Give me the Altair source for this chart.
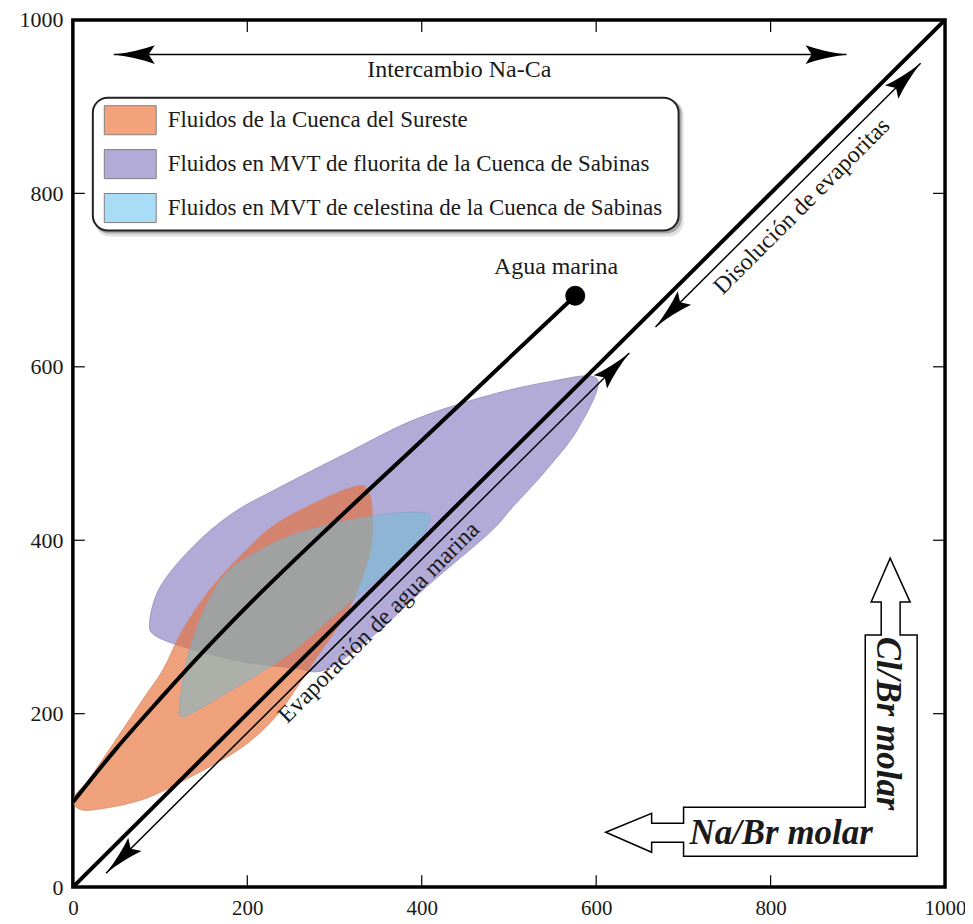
import altair as alt
import pandas as pd

# ---------------- data ----------------
AXIS_VALUES = [0, 200, 400, 600, 800, 1000]
TICK_VALUES = [200, 400, 600, 800]

GROUPS = ["Fluidos de la Cuenca del Sureste",
          "Fluidos en MVT de fluorita de la Cuenca de Sabinas",
          "Fluidos en MVT de celestina de la Cuenca de Sabinas"]
SWATCH_COLORS = ["#F4A27C", "#B2ABD8", "#A8DDF5"]

# fluorita (Sabinas) field
purple_x = [601, 542, 466, 389, 313, 237, 183, 137, 100, 88, 96, 137, 195, 252, 290, 348, 405, 477, 504, 542, 580]
purple_y = [586, 582, 564, 538, 500, 461, 431, 392, 346, 305, 289, 274, 260, 253, 251, 293, 346, 408, 438, 480, 530]

# Cuenca del Sureste field
orange_x = [328, 290, 233, 195, 157, 126, 104, 80, 42, 16, 2, 4, 23, 80, 137, 195, 233, 260, 283, 309, 328, 342, 343, 338]
orange_y = [463, 449, 419, 385, 343, 297, 252, 216, 159, 121, 105, 92, 89, 101, 128, 162, 197, 235, 270, 308, 346, 392, 438, 457]

# celestina (Sabinas) field
blue_x = [410, 400, 366, 328, 290, 252, 214, 176, 149, 130, 122, 126, 137, 176, 214, 252, 290, 336, 366, 397]
blue_y = [426, 432, 431, 425, 417, 406, 388, 362, 316, 258, 205, 197, 201, 224, 247, 272, 305, 344, 369, 400]

# seawater evaporation trend
seawater_x = [0, 50, 100, 150, 204, 300, 400, 500, 576]
seawater_y = [98, 160, 217, 272, 328, 421, 515, 610, 682]

diag_x = [0, 1000]
diag_y = [0, 1000]

agua_x = [576]
agua_y = [682]

# thin double arrows (shaft endpoints)
arrow_id = ["na_ca", "na_ca", "evap", "evap", "disol", "disol"]
arrow_x = [47, 887, 38, 638, 668, 972]
arrow_y = [960, 960, 16, 616, 646, 950]
arrow_angle = [270, 90, 225, 45, 225, 45]

# text annotations
label_text = ["Intercambio Na-Ca", "Agua marina", "Evaporación de agua marina", "Disolución de evaporitas"]
label_x = [443, 554, 351, 836]
label_y = [942, 715, 305, 785]
label_angle = [0, 0, 315, 315]

axis_text = ["Na/Br molar", "Cl/Br molar"]
axis_text_x = [812, 935]
axis_text_y = [62.6, 188.5]
axis_text_angle = [0, 90]

# L-shaped axis arrow outline
larrow_x = [611, 663.6, 663.6, 700.2, 700.2, 908.5, 908.5, 926.8, 926.8, 915.3, 937.1, 960, 948.5, 948.5, 968, 968, 700.2, 700.2, 663.6, 663.6]
larrow_y = [63.2, 85.1, 73.6, 73.6, 92, 92, 290.8, 290.8, 328.7, 328.7, 379.3, 328.7, 328.7, 290.8, 290.8, 35.6, 35.6, 51.7, 51.7, 40.2]

# ---------------- helpers ----------------
FONT = "Liberation Serif"
TXT = "#1a1a1a"
W, H = 874, 869

xscale = alt.Scale(domain=[0, 1000], nice=False, zero=False)
yscale = alt.Scale(domain=[0, 1000], nice=False, zero=False)
X = alt.X("x:Q", scale=xscale, title=None,
          axis=alt.Axis(values=AXIS_VALUES, labelPadding=10, format="d", labelFontSize=21))
Y = alt.Y("y:Q", scale=yscale, title=None,
          axis=alt.Axis(values=AXIS_VALUES, labelPadding=10, format="d"))


def poly_df(xs, ys):
    return pd.DataFrame({"x": xs, "y": ys, "i": list(range(len(xs)))})


def polygon(xs, ys, fill, op, stroke):
    return alt.Chart(poly_df(xs, ys)).mark_line(
        interpolate="cardinal-closed", fill=fill, fillOpacity=op,
        stroke=stroke, strokeWidth=1, strokeOpacity=0.7
    ).encode(x=X, y=Y, order="i:Q")


purple = polygon(purple_x, purple_y, "#9188C6", 0.7, "#8A84B8")
orange = polygon(orange_x, orange_y, "#E66E36", 0.65, "#D4866A")
blue = polygon(blue_x, blue_y, "#6CC0D6", 0.5, "#7FA6C8")

diag = alt.Chart(pd.DataFrame({"x": diag_x, "y": diag_y})).mark_line(
    color="black", strokeWidth=4).encode(x=X, y=Y)

sea = alt.Chart(pd.DataFrame({"x": seawater_x, "y": seawater_y})).mark_line(
    color="black", strokeWidth=4, interpolate="monotone").encode(x=X, y=Y)

dot = alt.Chart(pd.DataFrame({"x": agua_x, "y": agua_y})).mark_circle(
    color="black", size=400, opacity=1).encode(x=X, y=Y)

arrows_df = pd.DataFrame({"id": arrow_id, "x": arrow_x, "y": arrow_y, "angle": arrow_angle})
shafts = alt.Chart(arrows_df).mark_line(color="black", strokeWidth=1.5).encode(
    x=X, y=Y, detail="id:N")

HEAD = "M0,0 Q0.14,1.1 0.46,2 L0,1.7 L-0.46,2 Q-0.14,1.1 0,0 Z"
heads = alt.Chart(arrows_df).mark_point(
    shape=HEAD, filled=True, size=1681, color="black", opacity=1, strokeWidth=0
).encode(x=X, y=Y, angle=alt.Angle("angle:Q", scale=None))

labels = alt.Chart(pd.DataFrame({"t": label_text, "x": label_x, "y": label_y, "a": label_angle})).mark_text(
    font=FONT, fontSize=24, color=TXT, align="center", baseline="middle"
).encode(x=X, y=Y, text="t:N", angle=alt.Angle("a:Q", scale=None))

larrow = alt.Chart(poly_df(larrow_x, larrow_y)).mark_line(
    interpolate="linear-closed", fill="white", stroke="black", strokeWidth=1.5
).encode(x=X, y=Y, order="i:Q")

axis_labels = alt.Chart(pd.DataFrame({"t": axis_text, "x": axis_text_x, "y": axis_text_y, "a": axis_text_angle})).mark_text(
    font=FONT, fontSize=35, fontStyle="italic", fontWeight="bold", color=TXT,
    align="center", baseline="middle"
).encode(x=X, y=Y, text="t:N", angle=alt.Angle("a:Q", scale=None))

# inward ticks on all four sides
tdf = pd.DataFrame({"x": TICK_VALUES, "y": TICK_VALUES})
tick_b = alt.Chart(tdf).mark_rule(color="black", strokeWidth=1.2).encode(
    x=X, y=alt.value(H), y2=alt.value(H - 12))
tick_t = alt.Chart(tdf).mark_rule(color="black", strokeWidth=1.2).encode(
    x=X, y=alt.value(0), y2=alt.value(12))
tick_l = alt.Chart(tdf).mark_rule(color="black", strokeWidth=1.2).encode(
    y=Y, x=alt.value(0), x2=alt.value(12))
tick_r = alt.Chart(tdf).mark_rule(color="black", strokeWidth=1.2).encode(
    y=Y, x=alt.value(W), x2=alt.value(W - 12))

# legend frame (rounded box with soft shadow)
one = pd.DataFrame({"k": [0]})
shadow1 = alt.Chart(one).mark_rect(fill="#000000", opacity=0.12, cornerRadius=15).encode(
    x=alt.value(22), x2=alt.value(612), y=alt.value(80), y2=alt.value(217))
shadow2 = alt.Chart(one).mark_rect(fill="#000000", opacity=0.25, cornerRadius=15).encode(
    x=alt.value(21), x2=alt.value(610), y=alt.value(79), y2=alt.value(214))
box = alt.Chart(one).mark_rect(fill="white", stroke="#222222", strokeWidth=2, cornerRadius=15).encode(
    x=alt.value(20), x2=alt.value(607), y=alt.value(78), y2=alt.value(211))

RECT = "M-1,-0.56H1V0.56H-1Z"
legend_layer = alt.Chart(pd.DataFrame({"g": GROUPS})).mark_square(opacity=0, size=1).encode(
    x=alt.value(0), y=alt.value(0),
    fill=alt.Fill("g:N", scale=alt.Scale(domain=GROUPS, range=SWATCH_COLORS),
                  legend=alt.Legend(orient="none", legendX=31, legendY=74, title=None,
                                    padding=0, rowPadding=0,
                                    symbolType=RECT, symbolSize=2704,
                                    symbolStrokeColor="#808080", symbolStrokeWidth=1,
                                    symbolOpacity=1, labelFont=FONT, labelFontSize=23,
                                    labelColor=TXT, labelOffset=11, labelLimit=700))
)

chart = alt.layer(
    purple, orange, blue,
    diag, sea, shafts, heads, dot,
    labels, larrow, axis_labels,
    tick_b, tick_t, tick_l, tick_r,
    shadow1, shadow2, box, legend_layer
).properties(
    width=W, height=H,
    padding={"left": 65, "top": 11, "right": 20, "bottom": 32},
    autosize=alt.AutoSizeParams(type="none"),
    background="white"
).configure_view(
    stroke="black", strokeWidth=3.5
).configure_axis(
    labelFont=FONT, labelFontSize=22, labelColor=TXT,
    ticks=False, domain=False, grid=False, labelFlush=False
)

chart.save("out.html", embed_options={"renderer": "svg", "actions": False})
